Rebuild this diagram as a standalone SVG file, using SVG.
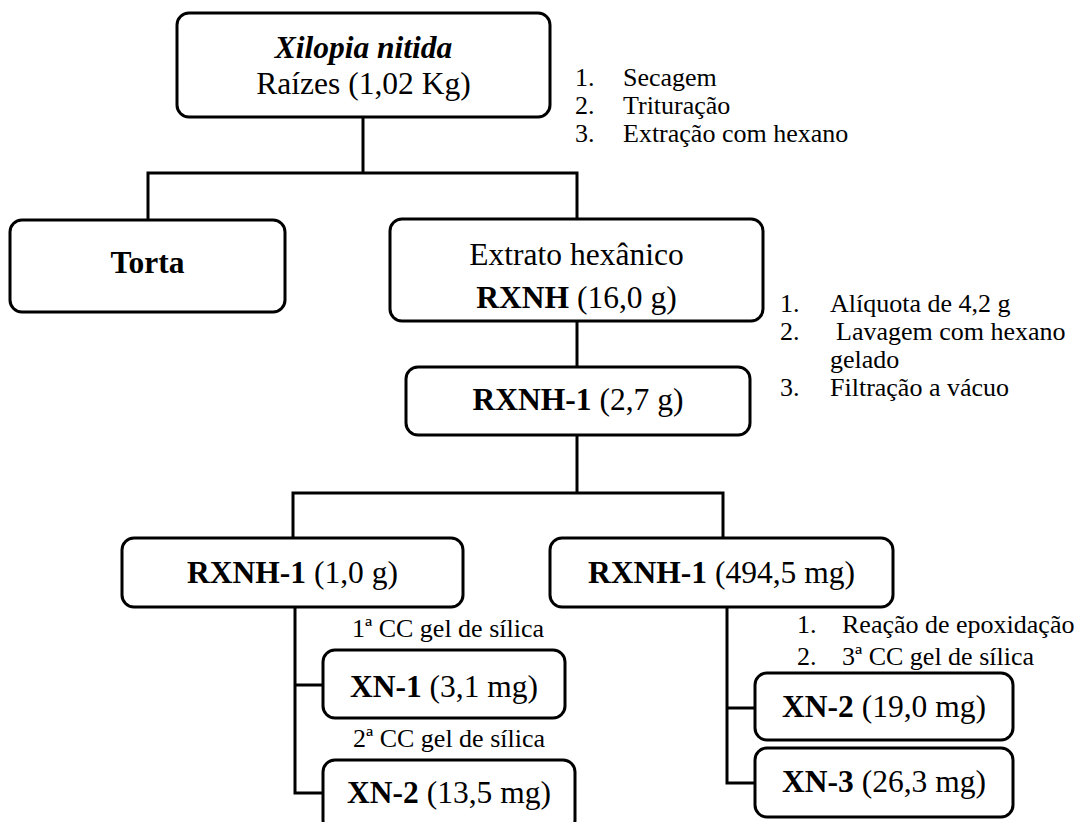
<svg xmlns="http://www.w3.org/2000/svg" width="1083" height="822" viewBox="0 0 1083 822">
  <style>
    .box { fill: #ffffff; stroke: #000000; stroke-width: 3; }
    .wire { fill: none; stroke: #000000; stroke-width: 3; }
    .lbl { font-family: "Liberation Serif", "Times New Roman", serif; font-size: 31.5px; fill: #000000; text-anchor: middle; }
    .note { font-family: "Liberation Serif", "Times New Roman", serif; font-size: 26px; fill: #000000; }
    .b { font-weight: bold; }
  </style>
  <rect width="1083" height="822" fill="#ffffff"/>

  <!-- connectors -->
  <g id="connectors">
    <path class="wire" d="M363 117 V173 M148 220 V173 H577 V219"/>
    <path class="wire" d="M577 321 V367"/>
    <path class="wire" d="M577 435 V493 M293 538 V493 H723 V538"/>
    <path class="wire" d="M295 607 V793 H323 M295 685 H323"/>
    <path class="wire" d="M727 607 V783 H755 M727 708 H755"/>
  </g>

  <!-- nodes -->
  <g id="raizes">
    <rect class="box" x="177" y="13" width="373" height="104" rx="12"/>
    <text class="lbl b" x="363.5" y="58" font-style="italic">Xilopia nitida</text>
    <text class="lbl" x="363.5" y="94">Raízes (1,02 Kg)</text>
  </g>

  <g id="torta">
    <rect class="box" x="10" y="220" width="275" height="92" rx="12"/>
    <text class="lbl b" x="147.5" y="273">Torta</text>
  </g>

  <g id="extrato">
    <rect class="box" x="390" y="219" width="373" height="102" rx="12"/>
    <text class="lbl" x="576.5" y="265">Extrato hexânico</text>
    <text class="lbl" x="576.5" y="308"><tspan class="b">RXNH</tspan> (16,0 g)</text>
  </g>

  <g id="rxnh1">
    <rect class="box" x="406" y="367" width="344" height="68" rx="12"/>
    <text class="lbl" x="578" y="410"><tspan class="b">RXNH-1</tspan> (2,7 g)</text>
  </g>

  <g id="rxnh1-a">
    <rect class="box" x="122" y="538" width="341" height="69" rx="12"/>
    <text class="lbl" x="292.5" y="583"><tspan class="b">RXNH-1</tspan> (1,0 g)</text>
  </g>

  <g id="rxnh1-b">
    <rect class="box" x="550" y="538" width="343" height="69" rx="12"/>
    <text class="lbl" x="721.5" y="583"><tspan class="b">RXNH-1</tspan> (494,5 mg)</text>
  </g>

  <g id="xn1">
    <rect class="box" x="323" y="650" width="242" height="68" rx="12"/>
    <text class="lbl" x="444" y="697"><tspan class="b">XN-1</tspan> (3,1 mg)</text>
  </g>

  <g id="xn2-a">
    <rect class="box" x="323" y="760" width="252" height="72" rx="12"/>
    <text class="lbl" x="449" y="803"><tspan class="b">XN-2</tspan> (13,5 mg)</text>
  </g>

  <g id="xn2-b">
    <rect class="box" x="755" y="673" width="258" height="67" rx="12"/>
    <text class="lbl" x="884" y="717"><tspan class="b">XN-2</tspan> (19,0 mg)</text>
  </g>

  <g id="xn3">
    <rect class="box" x="755" y="748" width="258" height="69" rx="12"/>
    <text class="lbl" x="884" y="792"><tspan class="b">XN-3</tspan> (26,3 mg)</text>
  </g>

  <!-- step notes -->
  <g id="steps-1" class="note">
    <text x="575" y="86">1.</text><text x="623" y="86">Secagem</text>
    <text x="575" y="114">2.</text><text x="623" y="114">Trituração</text>
    <text x="575" y="142">3.</text><text x="623" y="142">Extração com hexano</text>
  </g>

  <g id="steps-2" class="note">
    <text x="780" y="312">1.</text><text x="830" y="312">Alíquota de 4,2 g</text>
    <text x="780" y="340">2.</text><text x="836" y="340">Lavagem com hexano</text>
    <text x="830" y="368">gelado</text>
    <text x="780" y="396">3.</text><text x="830" y="396">Filtração a vácuo</text>
  </g>

  <g id="steps-3" class="note">
    <text x="352" y="637">1ª CC gel de sílica</text>
    <text x="353" y="747">2ª CC gel de sílica</text>
  </g>

  <g id="steps-4" class="note">
    <text x="797" y="633">1.</text><text x="842" y="633">Reação de epoxidação</text>
    <text x="797" y="665">2.</text><text x="842" y="665">3ª CC gel de sílica</text>
  </g>
</svg>
